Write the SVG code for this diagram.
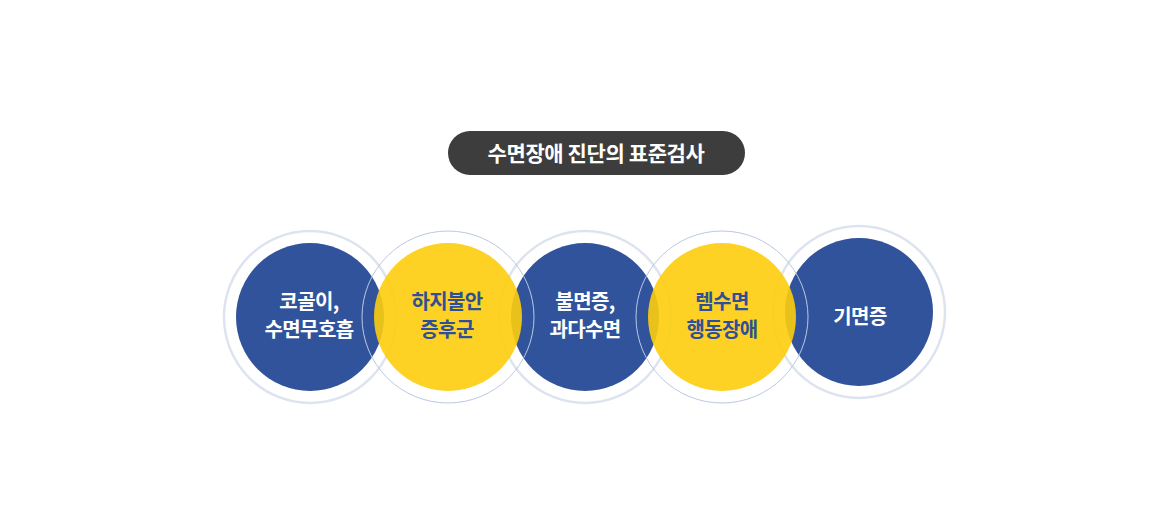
<svg xmlns="http://www.w3.org/2000/svg" width="1162" height="506" viewBox="0 0 1162 506">
<style>
.bg{fill:#ffffff}
.ringB{fill:none;stroke:#dde3ef;stroke-width:2.5}
.ringY{fill:none;stroke:#b9c9e2;stroke-width:1}
.blue{fill:#31539c}
.yellow{fill:#fdcd0c;fill-opacity:0.9}
text{font-family:"Noto Sans CJK KR","Noto Sans",sans-serif;font-weight:700;font-size:20px;text-anchor:middle;letter-spacing:-0.6px}
.title{font-size:21px;letter-spacing:-0.4px}
.tw{fill:#ffffff}
.tb{fill:#2f4f96}
</style>
<rect class="bg" x="0" y="0" width="1162" height="506"/>
<g id="title">
<rect x="448" y="131" width="297" height="44" rx="22" fill="#3d3d3d"/>
<text class="tw title" x="596" y="161">수면장애 진단의 표준검사</text>
</g>
<g id="connectors"></g>
<g id="node1">
<circle class="ringB" cx="310" cy="317" r="86"/>
<circle class="blue" cx="310" cy="317" r="74"/>
</g>
<g id="node3">
<circle class="ringB" cx="585" cy="317" r="86"/>
<circle class="blue" cx="585" cy="317" r="74"/>
</g>
<g id="node5">
<circle class="ringB" cx="859" cy="312" r="86"/>
<circle class="blue" cx="859" cy="312" r="74"/>
</g>
<g id="node2">
<circle class="ringY" cx="448" cy="317" r="86"/>
<circle class="yellow" cx="448" cy="317" r="74"/>
</g>
<g id="node4">
<circle class="ringY" cx="722" cy="317" r="86"/>
<circle class="yellow" cx="722" cy="317" r="74"/>
</g>
<g id="labels">
<text class="tw" x="309" y="309">코골이,</text>
<text class="tw" x="309" y="337">수면무호흡</text>
<text class="tb" x="447" y="309">하지불안</text>
<text class="tb" x="447" y="337">증후군</text>
<text class="tw" x="585" y="309">불면증,</text>
<text class="tw" x="585" y="337">과다수면</text>
<text class="tb" x="722" y="309">렘수면</text>
<text class="tb" x="722" y="337">행동장애</text>
<text class="tw" x="860" y="324">기면증</text>
</g>
</svg>
